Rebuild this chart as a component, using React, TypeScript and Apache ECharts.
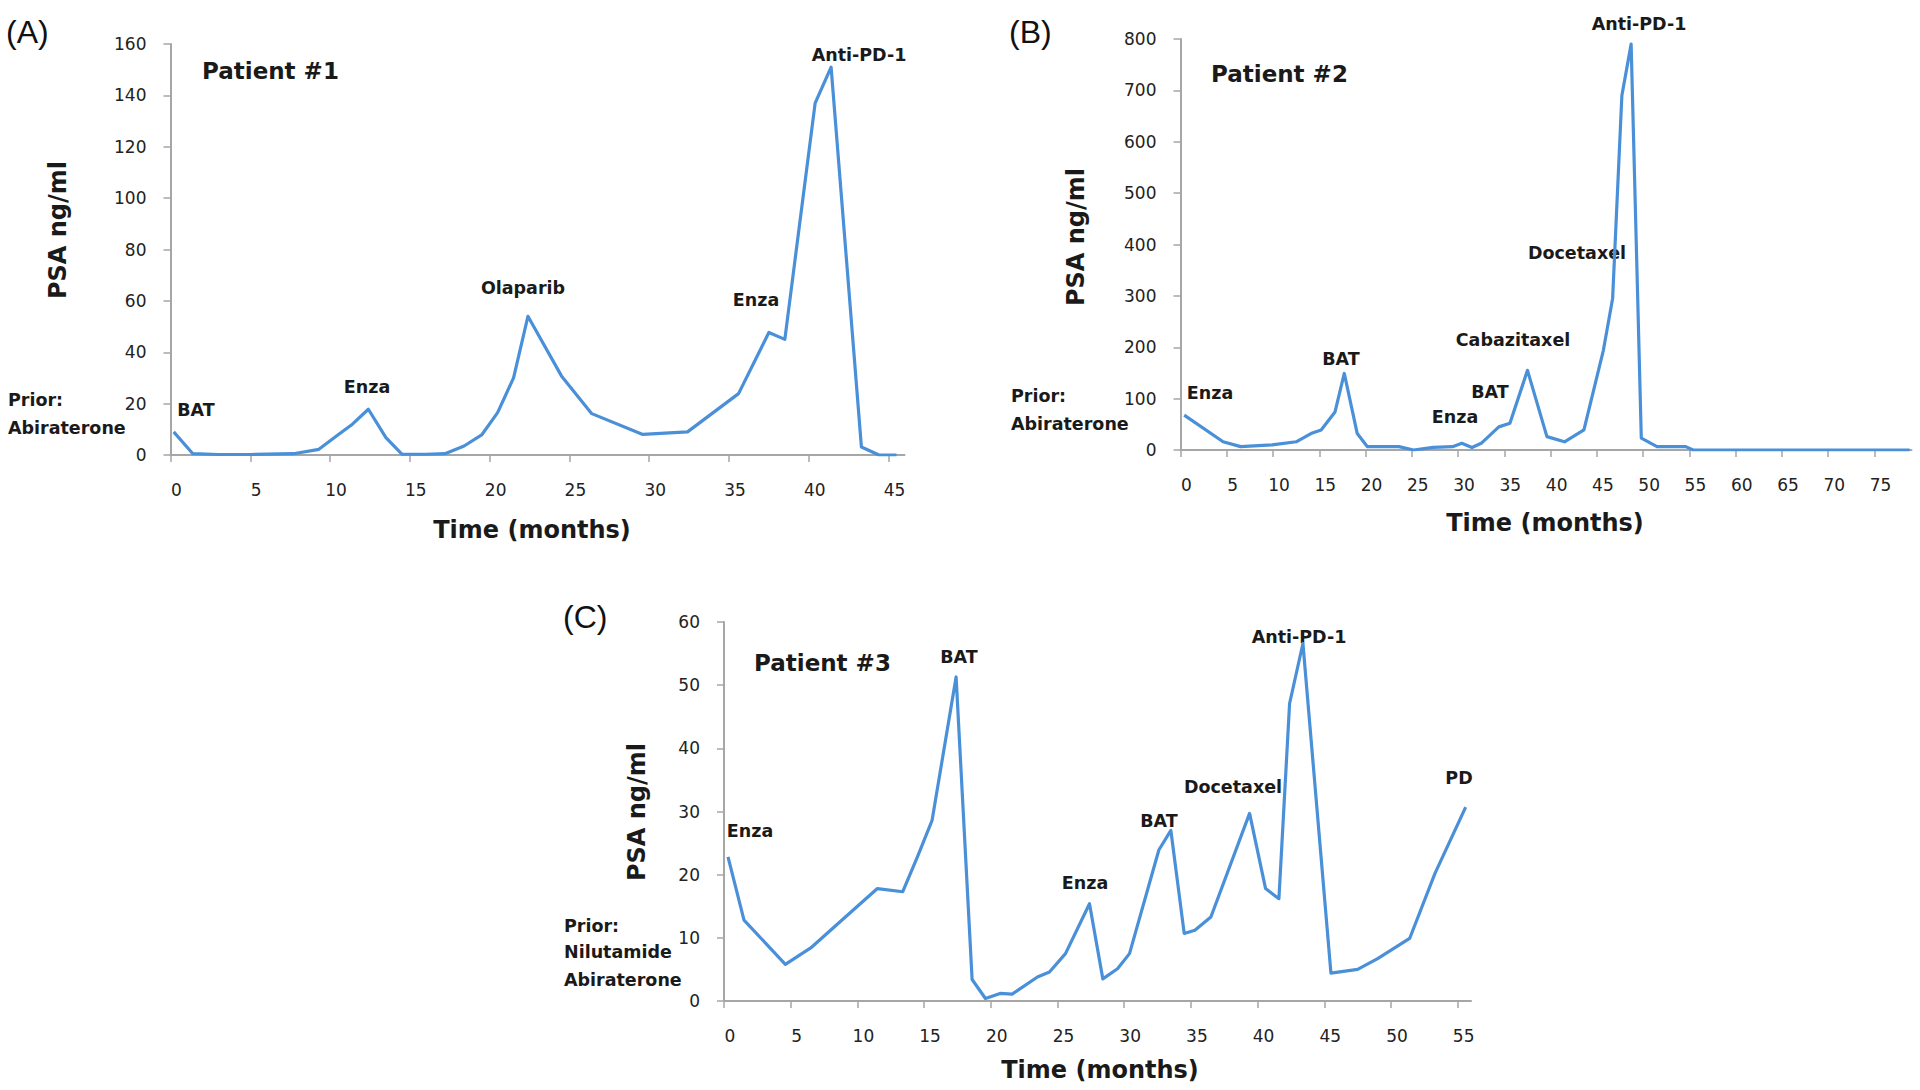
import React, { useEffect, useRef } from "react";
import * as echarts from "echarts";

// ---------- Data ----------
const monthsA = [0.2, 1.4, 3, 5, 7.7, 9.3, 10.4, 11.4, 12.4, 13.5, 14.5, 16, 17.2, 18.4, 19.5, 20.5, 21.5, 22.4, 24.5, 26.4, 29.6, 32.4, 35.6, 37.5, 38.5, 40.4, 41.4, 43.3, 44.4, 45.5];
const psaA = [9, 0.5, 0.2, 0.2, 0.5, 2.2, 7.4, 12, 17.8, 6.8, 0.3, 0.3, 0.5, 3.5, 7.8, 16.5, 30, 54, 30.8, 16.1, 8, 9, 23.9, 47.7, 45, 137, 151, 3.1, 0, 0];

const monthsB = [0.4, 4.6, 6.5, 9.9, 12.5, 14.1, 15.2, 16.7, 17.7, 19.1, 20.2, 23.6, 25.2, 27.3, 29.4, 30.4, 31.5, 32.5, 34.4, 35.6, 37.5, 39.6, 41.5, 43.6, 45.7, 46.7, 47.7, 48.7, 49.8, 51.5, 54.6, 55.4, 78.8];
const psaB = [68, 16, 6.5, 10, 16, 32, 39, 74, 149, 32, 6.5, 6.5, 0, 5, 6.5, 13, 5, 13, 45, 52, 155, 26, 16, 39, 194, 295, 690, 790, 23, 6.5, 6.5, 0, 0];

const monthsC = [0.3, 1.5, 4.6, 6.5, 9.1, 11.5, 13.4, 14.5, 15.6, 17.4, 18.6, 19.6, 20.7, 21.6, 23.5, 24.4, 25.6, 27.4, 28.4, 29.5, 30.4, 32.6, 33.5, 34.5, 35.3, 36.5, 39.4, 40.6, 41.6, 42.4, 43.4, 45.5, 47.5, 49, 51.4, 53.3, 55.6];
const psaC = [22.8, 12.8, 5.8, 8.4, 13.3, 17.8, 17.3, 22.8, 28.6, 51.3, 3.4, 0.4, 1.2, 1.1, 3.8, 4.6, 7.5, 15.4, 3.5, 5.1, 7.5, 23.9, 27, 10.7, 11.2, 13.3, 29.7, 17.8, 16.2, 47.1, 56.6, 4.4, 5, 6.7, 9.9, 20.2, 30.7];

const xTicksA = [0, 5, 10, 15, 20, 25, 30, 35, 40, 45];
const xTicksB = [0, 5, 10, 15, 20, 25, 30, 35, 40, 45, 50, 55, 60, 65, 70, 75];
const xTicksC = [0, 5, 10, 15, 20, 25, 30, 35, 40, 45, 50, 55];

const panelTitles = ["Patient #1", "Patient #2", "Patient #3"];
const panelLetters = ["(A)", "(B)", "(C)"];
const yTitle = "PSA ng/ml";
const xTitle = "Time (months)";

// ---------- Layout / style ----------
const LINE = "#4a90d9";
const AXIS = "#a6a6a6";
const FONT = "'DejaVu Sans', 'Liberation Sans', sans-serif";
const LETTER_FONT = "'Liberation Sans', Arial, sans-serif";

const panels = [
  { months: monthsA, psa: psaA, xMax: 46, yMax: 160, yInt: 20, ticks: xTicksA, grid: { left: 170.5, top: 44, width: 734, height: 411 } },
  { months: monthsB, psa: psaB, xMax: 79, yMax: 800, yInt: 100, ticks: xTicksB, grid: { left: 1180.5, top: 39, width: 731, height: 411 } },
  { months: monthsC, psa: psaC, xMax: 56, yMax: 60, yInt: 10, ticks: xTicksC, grid: { left: 724, top: 622, width: 747, height: 379 } },
];

const annotations = [
  // panel A
  { t: "BAT", x: 196, y: 410 },
  { t: "Enza", x: 367, y: 387 },
  { t: "Olaparib", x: 523, y: 288 },
  { t: "Enza", x: 756, y: 300 },
  { t: "Anti-PD-1", x: 859, y: 55 },
  // panel B
  { t: "Enza", x: 1210, y: 393 },
  { t: "BAT", x: 1341, y: 359 },
  { t: "Enza", x: 1455, y: 417 },
  { t: "BAT", x: 1490, y: 392 },
  { t: "Cabazitaxel", x: 1513, y: 340 },
  { t: "Docetaxel", x: 1577, y: 253 },
  { t: "Anti-PD-1", x: 1639, y: 24 },
  // panel C
  { t: "Enza", x: 750, y: 831 },
  { t: "BAT", x: 959, y: 657 },
  { t: "Enza", x: 1085, y: 883 },
  { t: "BAT", x: 1159, y: 821 },
  { t: "Docetaxel", x: 1233, y: 787 },
  { t: "Anti-PD-1", x: 1299, y: 637 },
  { t: "PD", x: 1459, y: 778 },
];

const priorNotes = [
  { t: "Prior:", x: 8, y: 400 },
  { t: "Abiraterone", x: 8, y: 428 },
  { t: "Prior:", x: 1011, y: 396 },
  { t: "Abiraterone", x: 1011, y: 424 },
  { t: "Prior:", x: 564, y: 926 },
  { t: "Nilutamide", x: 564, y: 952 },
  { t: "Abiraterone", x: 564, y: 980 },
];

const panelTextPos = [
  { letter: { x: 6, y: 32 }, title: { x: 202, y: 71 }, yT: { x: 58, y: 230 }, xT: { x: 532, y: 530 } },
  { letter: { x: 1009, y: 32 }, title: { x: 1211, y: 74 }, yT: { x: 1076, y: 237 }, xT: { x: 1545, y: 523 } },
  { letter: { x: 563, y: 617 }, title: { x: 754, y: 663 }, yT: { x: 637, y: 812 }, xT: { x: 1100, y: 1070 } },
];

function txt(t: string, x: number, y: number, opts: any = {}) {
  const align = opts.align || "center";
  return {
    type: "text",
    x,
    y,
    rotation: opts.rotation || 0,
    silent: true,
    style: {
      text: t,
      fill: opts.fill || "#1a1a1a",
      fontSize: opts.fontSize || 17.5,
      fontFamily: opts.fontFamily || FONT,
      fontWeight: opts.fontWeight || "bold",
      align,
      verticalAlign: "middle",
      textAlign: align,
      textVerticalAlign: "middle",
    },
  };
}

function buildOption() {
  const grid = panels.map((p) => ({ ...p.grid, containLabel: false }));
  const xAxis = panels.map((p, i) => ({
    type: "value",
    gridIndex: i,
    min: 0,
    max: p.xMax,
    splitLine: { show: false },
    axisLine: { show: true, onZero: false, lineStyle: { color: AXIS, width: 2 } },
    axisTick: { show: true, customValues: p.ticks, length: 7, inside: false, lineStyle: { color: AXIS, width: 1.5 } },
    axisLabel: {
      customValues: p.ticks,
      margin: 26,
      fontSize: 17,
      fontFamily: FONT,
      color: "#222",
      padding: [0, 0, 0, 12],
    },
  }));
  const yAxis = panels.map((p, i) => ({
    type: "value",
    gridIndex: i,
    min: 0,
    max: p.yMax,
    interval: p.yInt,
    splitLine: { show: false },
    axisLine: { show: true, onZero: false, lineStyle: { color: AXIS, width: 2 } },
    axisTick: { show: true, length: 7, lineStyle: { color: AXIS, width: 1.5 } },
    axisLabel: { margin: 24, fontSize: 17, fontFamily: FONT, color: "#222" },
  }));
  const series = panels.map((p, i) => ({
    type: "line",
    xAxisIndex: i,
    yAxisIndex: i,
    data: p.months.map((m, k) => [m, p.psa[k]]),
    showSymbol: false,
    symbol: "none",
    lineStyle: { color: LINE, width: 3.2, join: "round" },
    itemStyle: { color: LINE },
    z: 3,
  }));

  const graphics: any[] = [];
  panelTextPos.forEach((pos, i) => {
    graphics.push(txt(panelLetters[i], pos.letter.x, pos.letter.y, { align: "left", fontSize: 32, fontFamily: LETTER_FONT, fontWeight: "normal", fill: "#111" }));
    graphics.push(txt(panelTitles[i], pos.title.x, pos.title.y, { align: "left", fontSize: 23 }));
    graphics.push(txt(yTitle, pos.yT.x, pos.yT.y, { fontSize: 24, rotation: Math.PI / 2 }));
    graphics.push(txt(xTitle, pos.xT.x, pos.xT.y, { fontSize: 24 }));
  });
  annotations.forEach((a) => graphics.push(txt(a.t, a.x, a.y)));
  priorNotes.forEach((a) => graphics.push(txt(a.t, a.x, a.y, { align: "left" })));

  return {
    animation: false,
    backgroundColor: "#ffffff",
    grid,
    xAxis,
    yAxis,
    series,
    graphic: graphics,
  };
}

export default function App() {
  const ref = useRef<HTMLDivElement>(null);
  useEffect(() => {
    if (!ref.current) return;
    const chart = echarts.init(ref.current, null, { renderer: "svg" });
    chart.setOption(buildOption() as any);
    return () => chart.dispose();
  }, []);
  return (
    <div
      ref={ref}
      style={{ position: "absolute", left: 0, top: 0, width: 1920, height: 1090, background: "#fff" }}
    />
  );
}
